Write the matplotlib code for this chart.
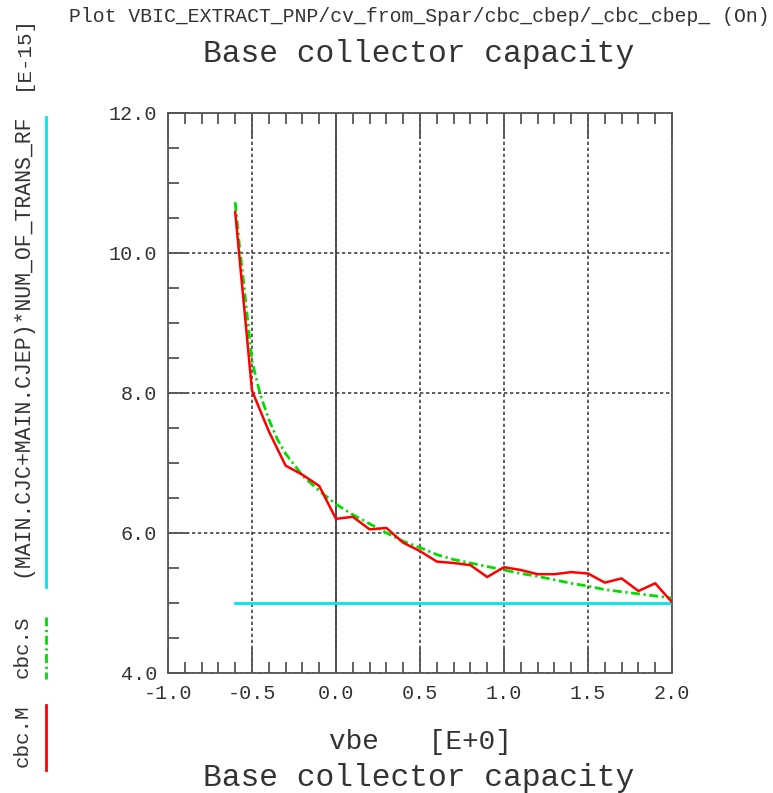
import matplotlib
matplotlib.use("Agg")
import matplotlib.pyplot as plt
from matplotlib.lines import Line2D
from matplotlib.ticker import MultipleLocator, FixedLocator

# ---- data ----
vbe_meas = [-0.6, -0.5, -0.4, -0.3, -0.2, -0.1, 0.0, 0.1, 0.2, 0.3, 0.4, 0.5, 0.6,
            0.7, 0.8, 0.9, 1.0, 1.1, 1.2, 1.3, 1.4, 1.5, 1.6, 1.7, 1.8, 1.9, 2.0]
cbc_M = [10.58, 8.03, 7.45, 6.96, 6.83, 6.67, 6.20, 6.23, 6.05, 6.07, 5.86, 5.74, 5.59,
         5.57, 5.54, 5.37, 5.51, 5.47, 5.41, 5.41, 5.44, 5.42, 5.29, 5.35, 5.17, 5.28, 5.01]

vbe_sim = [-0.6, -0.575, -0.55, -0.525, -0.5, -0.45, -0.4, -0.35, -0.3, -0.2, -0.1, 0.0,
           0.1, 0.2, 0.3, 0.4, 0.5, 0.6, 0.7, 0.8, 0.9, 1.0, 1.1, 1.2, 1.3, 1.4, 1.5,
           1.6, 1.7, 1.8, 1.9, 2.0]
cbc_S = [10.72, 10.10, 9.58, 9.02, 8.45, 7.97, 7.62, 7.34, 7.13, 6.82, 6.60, 6.41,
         6.26, 6.13, 6.00, 5.88, 5.79, 5.69, 5.62, 5.57, 5.52, 5.47, 5.42, 5.38, 5.33,
         5.28, 5.24, 5.19, 5.16, 5.13, 5.10, 5.07]

cjc_x = [-0.6, 2.0]
cjc_y = [5.0, 5.0]

x_major = [-1.0, -0.5, 0.0, 0.5, 1.0, 1.5, 2.0]
x_labels = ["-1.0", "-0.5", "0.0", "0.5", "1.0", "1.5", "2.0"]
y_major = [4.0, 6.0, 8.0, 10.0, 12.0]
y_labels = ["4.0", "6.0", "8.0", "10.0", "12.0"]

header = "Plot VBIC_EXTRACT_PNP/cv_from_Spar/cbc_cbep/_cbc_cbep_ (On)"
title = "Base collector capacity"
xlabel = "vbe   [E+0]"
yscale_lbl = "[E-15]"
ylabel = "(MAIN.CJC+MAIN.CJEP)*NUM_OF_TRANS_RF"
lbl_S = "cbc.S"
lbl_M = "cbc.M"

# ---- style ----
W, H = 773, 793
FONT = "Liberation Mono"
TXT = "#333333"
AXC = "#555555"
RED = "#ff0000"
GREEN = "#00dd00"
CYAN = "#00e5ee"

fig = plt.figure(figsize=(W / 100, H / 100), dpi=100)
fig.patch.set_facecolor("white")
ax = fig.add_axes([168 / W, 1 - 673 / H, (672 - 168) / W, (673 - 112.5) / H])

ax.set_xlim(-1.0, 2.0)
ax.set_ylim(4.0, 12.0)

for s in ax.spines.values():
    s.set_color(AXC)
    s.set_linewidth(1.3)

ax.xaxis.set_major_locator(FixedLocator(x_major))
ax.yaxis.set_major_locator(FixedLocator(y_major))
ax.set_xticklabels(x_labels, fontfamily=FONT, fontsize=14.5, color=TXT)
ax.set_yticklabels(y_labels, fontfamily=FONT, fontsize=14.5, color=TXT)
ax.xaxis.set_minor_locator(MultipleLocator(0.1))
ax.yaxis.set_minor_locator(MultipleLocator(0.5))

ax.tick_params(axis="x", which="major", direction="in", length=18, width=1.3,
               color=AXC, top=True, bottom=True, pad=8)
ax.tick_params(axis="x", which="minor", direction="in", length=8, width=1.3,
               color=AXC, top=True, bottom=True)
ax.tick_params(axis="y", which="major", direction="in", length=15, width=1.3,
               color=AXC, left=True, right=False, pad=8)
ax.tick_params(axis="y", which="minor", direction="in", length=8, width=1.3,
               color=AXC, left=True, right=False)

ax.grid(True, which="major", color="#444444", linewidth=1.2,
        linestyle=(0, (2.0, 1.6)))
ax.axvline(0.0, color="#333333", linewidth=1.2, zorder=1.5)

ax.plot(cjc_x, cjc_y, color=CYAN, linewidth=2.0, zorder=3)
ax.plot(vbe_sim, cbc_S, color=GREEN, linewidth=2.0,
        linestyle=(0, (3.2, 1.3, 0.8, 1.3)), zorder=4)
ax.plot(vbe_meas, cbc_M, color=RED, linewidth=1.8, zorder=5)

# ---- texts ----
cx = 419 / W
fig.text(cx, 1 - 16 / H, header, ha="center", va="center",
         fontfamily=FONT, fontsize=14.2, color=TXT)
fig.text(cx, 1 - 54 / H, title, ha="center", va="center",
         fontfamily=FONT, fontsize=22.5, color=TXT)
fig.text(420 / W, 1 - 742 / H, xlabel, ha="center", va="center",
         fontfamily=FONT, fontsize=20, color=TXT)
fig.text(cx, 1 - 778 / H, title, ha="center", va="center",
         fontfamily=FONT, fontsize=22.5, color=TXT)

lx = 22 / W
fig.text(lx, 1 - 53 / H, yscale_lbl, rotation=90, ha="center", va="center",
         fontfamily=FONT, fontsize=15, color=TXT)
fig.text(lx, 1 - 345 / H, ylabel, rotation=90, ha="center", va="center",
         fontfamily=FONT, fontsize=15.5, color=TXT)
fig.text(lx, 1 - 647 / H, lbl_S, rotation=90, ha="center", va="center",
         fontfamily=FONT, fontsize=15, color=TXT)
fig.text(lx, 1 - 736 / H, lbl_M, rotation=90, ha="center", va="center",
         fontfamily=FONT, fontsize=15, color=TXT)

mx = 46 / W
fig.add_artist(Line2D([mx, mx], [1 - 117 / H, 1 - 587 / H], color=CYAN, linewidth=2.0))
fig.add_artist(Line2D([mx, mx], [1 - 617 / H, 1 - 679 / H], color=GREEN, linewidth=2.0,
                      linestyle=(0, (3.2, 1.3, 0.8, 1.3))))
fig.add_artist(Line2D([mx, mx], [1 - 705 / H, 1 - 770 / H], color=RED, linewidth=2.0))

fig.savefig("out.png", dpi=100, facecolor="white")
